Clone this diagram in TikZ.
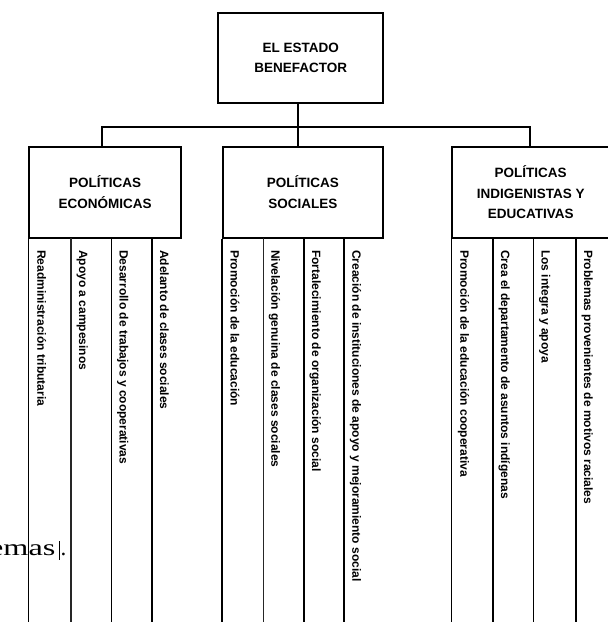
\documentclass[tikz,border=0pt]{standalone}
\usepackage{fontspec}
\setmainfont{Liberation Serif}
\newfontfamily\hdfont{Liberation Sans}
\begin{document}
\begin{tikzpicture}[x=1pt,y=-1pt,
  boxst/.style={draw, line width=1.9pt, inner sep=0pt, align=center,
    font=\hdfont\bfseries\fontsize{13.5}{20.5}\selectfont},
  conn/.style={line width=1.9pt},
  thickcol/.style={line width=1.8pt},
  thincol/.style={line width=1.2pt, black!85},
  coltext/.style={rotate=-90, anchor=base west, inner sep=0pt,
    font=\hdfont\bfseries\fontsize{12}{14}\selectfont}]
\useasboundingbox (0,0) rectangle (608,622);
\clip (0,0) rectangle (608,622);
\fill[white] (0,0) rectangle (608,622);

% boxes
\node[boxst, minimum width=165pt, minimum height=90.6pt] (top) at (300.8,58) {EL ESTADO\\BENEFACTOR};
\node[boxst, minimum width=151.7pt, minimum height=91pt] (pe) at (105.2,192.2) {POLÍTICAS\\ECONÓMICAS};
\node[boxst, minimum width=160.5pt, minimum height=91pt] (ps) at (302.8,192.2) {POLÍTICAS\\SOCIALES};
\node[boxst, minimum width=156.7pt, minimum height=91pt] (pi) at (530.7,192.2) {POLÍTICAS\\INDIGENISTAS Y\\EDUCATIVAS};

% connectors
\coordinate (bus) at (298,127.3);
\coordinate (k1) at (101.7,127.3);
\coordinate (k3) at (529.7,127.3);
\draw[conn] (top.south -| bus) -- (bus) -- (ps.north -| bus);
\draw[conn] (pe.north -| k1) -- (k1) -- (k3) -- (pi.north -| k3);

% column lines
\coordinate (floor) at (0,626);
\coordinate (e2) at (71,237.7);
\coordinate (e3) at (111.5,237.7);
\coordinate (e4) at (152,237.7);
\coordinate (s2) at (263.3,237.7);
\coordinate (s3) at (304,237.7);
\coordinate (s4) at (344.3,237.7);
\coordinate (i2) at (493,237.7);
\coordinate (i3) at (533.5,237.7);
\coordinate (i4) at (576,237.7);

\draw[thickcol] (pe.south west) -- (pe.south west |- floor);
\draw[thincol] (e2) -- (e2 |- floor);
\draw[thickcol] (e3) -- (e3 |- floor);
\draw[thickcol] (e4) -- (e4 |- floor);

\draw[thickcol] (ps.south west) -- (ps.south west |- floor);
\draw[thincol] (s2) -- (s2 |- floor);
\draw[thickcol] (s3) -- (s3 |- floor);
\draw[thickcol] (s4) -- (s4 |- floor);

\draw[thickcol] (pi.south west) -- (pi.south west |- floor);
\draw[thickcol] (i2) -- (i2 |- floor);
\draw[thickcol] (i3) -- (i3 |- floor);
\draw[thickcol] (i4) -- (i4 |- floor);

% column texts
\node[coltext] (te1) at (37.5,250) {Readministración tributaria};
\node[coltext] (te2) at (79,250) {Apoyo a campesinos};
\node[coltext] (te3) at (119.5,250) {Desarrollo de trabajos y cooperativas};
\node[coltext] (te4) at (160,250) {Adelanto de clases sociales};

\node[coltext] (ts1) at (230.5,250) {Promoción de la educación};
\node[coltext] (ts2) at (271.3,250) {Nivelación genuina de clases sociales};
\node[coltext] (ts3) at (312,250) {Fortalecimiento de organización social};
\node[coltext] (ts4) at (352.3,250) {Creación de instituciones de apoyo y mejoramiento social};

\node[coltext] (ti1) at (460.3,250) {Promoción de la educación cooperativa};
\node[coltext] (ti2) at (501,250) {Crea el departamento de asuntos indígenas};
\node[coltext] (ti3) at (541.5,250) {Los integra y apoya};
\node[coltext] (ti4) at (584,250) {Problemas provenientes de motivos raciales};

% stray fragment of running text with cursor
\node[anchor=base west, inner sep=0pt, font=\fontsize{23}{23}\selectfont] (frag) at (-11,555) {\scalebox{1.4}[1]{emas}};
\coordinate (cura) at (59,541);
\coordinate (curb) at (59,560);
\draw[line width=0.7pt] (cura) -- (curb);
\node[anchor=base west, inner sep=0pt, font=\fontsize{23}{23}\selectfont] (dot) at (60.3,555) {.};
\end{tikzpicture}
\end{document}
